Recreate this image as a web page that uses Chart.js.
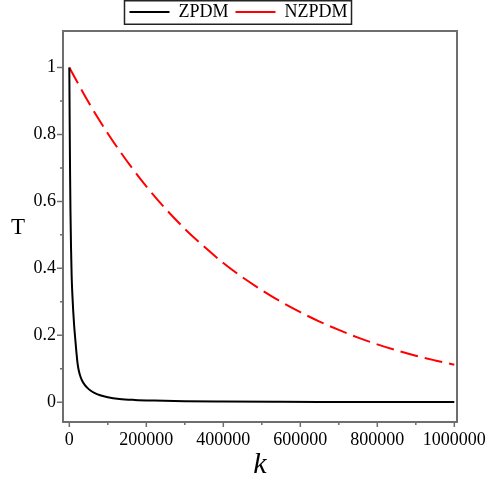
<!DOCTYPE html>
<html><head><meta charset="utf-8">
<script src="https://cdn.jsdelivr.net/npm/chart.js@4/dist/chart.umd.min.js"></script>
<style>html,body{margin:0;padding:0;background:#fff;}</style>
</head><body>
<canvas id="c" width="488" height="485"></canvas>
<script>
// ---- data ----
const seriesNames = ['ZPDM', 'NZPDM'];
const kZPDM = [0, 1000, 2000, 3000, 4500, 6000, 8000, 10000, 12500, 15000, 18000, 21000, 24000, 28000, 33000, 40000, 47000, 55000, 65000, 80000, 100000, 130000, 170000, 220000, 300000, 400000, 550000, 700000, 1000000];
const tZPDM = [1, 0.83, 0.68, 0.57, 0.46, 0.38, 0.32, 0.275, 0.23, 0.195, 0.155, 0.12, 0.098, 0.08, 0.065, 0.052, 0.043, 0.035, 0.028, 0.021, 0.015, 0.01, 0.007, 0.005, 0.003, 0.002, 0.0013, 0.001, 0.0006];
const kNZPDM = [0, 50000, 100000, 150000, 200000, 250000, 300000, 350000, 400000, 450000, 500000, 550000, 600000, 650000, 700000, 750000, 800000, 850000, 900000, 950000, 1000000];
const tNZPDM = [1, 0.896, 0.803, 0.72, 0.645, 0.578, 0.518, 0.465, 0.416, 0.373, 0.335, 0.300, 0.269, 0.241, 0.216, 0.193, 0.173, 0.155, 0.139, 0.125, 0.112];
const xTickValues = [0, 200000, 400000, 600000, 800000, 1000000];
const xMinorValues = [100000, 300000, 500000, 700000, 900000];
const yTickValues = [0, 0.2, 0.4, 0.6, 0.8, 1];
const yMinorValues = [0.1, 0.3, 0.5, 0.7, 0.9];
const xTitle = 'k';
const yTitle = 'T';

const SERIF = '"Liberation Serif", "DejaVu Serif", serif';
const AXIS = '#6e6e6e';

const toPts = (xs, ys) => xs.map((x, i) => ({x: x, y: ys[i]}));

const framePlugin = {
  id: 'frame',
  afterDraw(chart) {
    const {ctx, chartArea: a, scales} = chart;
    const xs = scales.x, ys = scales.y;
    ctx.save();
    // frame
    ctx.strokeStyle = AXIS;
    ctx.lineWidth = 2;
    ctx.strokeRect(a.left, a.top, a.right - a.left, a.bottom - a.top);
    // ticks
    ctx.lineWidth = 1.5;
    ctx.beginPath();
    xTickValues.forEach(v => { const p = xs.getPixelForValue(v); ctx.moveTo(p, a.bottom); ctx.lineTo(p, a.bottom + 5); });
    xMinorValues.forEach(v => { const p = xs.getPixelForValue(v); ctx.moveTo(p, a.bottom); ctx.lineTo(p, a.bottom + 3); });
    yTickValues.forEach(v => { const p = ys.getPixelForValue(v); ctx.moveTo(a.left, p); ctx.lineTo(a.left - 6, p); });
    yMinorValues.forEach(v => { const p = ys.getPixelForValue(v); ctx.moveTo(a.left, p); ctx.lineTo(a.left - 3, p); });
    ctx.stroke();
    // upright y title
    ctx.fillStyle = '#000';
    ctx.font = '23px ' + SERIF;
    ctx.textAlign = 'center';
    ctx.textBaseline = 'middle';
    ctx.fillText(yTitle, 18, (a.top + a.bottom) / 2 + 1);
    // legend border
    const lg = chart.legend;
    if (lg && lg.legendHitBoxes && lg.legendHitBoxes.length) {
      const hb = lg.legendHitBoxes;
      const l = Math.min(...hb.map(h => h.left)) - 5;
      const r = Math.max(...hb.map(h => h.left + h.width)) + 4;
      ctx.strokeStyle = '#222';
      ctx.lineWidth = 1.5;
      ctx.strokeRect(l, 0.75, r - l, 23.5);
    }
    ctx.restore();
  }
};

new Chart(document.getElementById('c'), {
  type: 'scatter',
  data: {
    datasets: [
      {label: seriesNames[0], data: toPts(kZPDM, tZPDM), showLine: true, borderColor: '#000', backgroundColor: '#000', borderWidth: 2, pointRadius: 0, cubicInterpolationMode: 'monotone'},
      {label: seriesNames[1], data: toPts(kNZPDM, tNZPDM), showLine: true, borderColor: '#ff0000', backgroundColor: '#ff0000', borderWidth: 2, borderDash: [18, 7], pointRadius: 0, cubicInterpolationMode: 'monotone'}
    ]
  },
  options: {
    responsive: false,
    animation: false,
    devicePixelRatio: 1,
    layout: {padding: {top: -4, right: 26, left: 15, bottom: 0}},
    plugins: {
      tooltip: {enabled: false},
      legend: {
        position: 'top', align: 'center', maxHeight: 35,
        labels: {usePointStyle: true, pointStyle: 'line', pointStyleWidth: 40, boxHeight: 18, padding: 7, color: '#000', font: {family: SERIF, size: 18}}
      }
    },
    scales: {
      x: {
        type: 'linear', min: -16400, max: 1007000,
        afterBuildTicks: s => { s.ticks = xTickValues.map(v => ({value: v})); },
        afterFit: s => { s.height = 63; s.paddingRight = 31; s.paddingLeft = 0; },
        grid: {display: false, drawTicks: false, tickLength: 0},
        border: {display: false},
        ticks: {callback: v => String(v), color: '#000', font: {family: SERIF, size: 18}, padding: 7, maxRotation: 0, autoSkip: false},
        title: {display: true, text: xTitle, color: '#000', font: {family: SERIF, size: 30, style: 'italic'}, padding: {top: 0, bottom: 2}}
      },
      y: {
        type: 'linear', min: -0.059, max: 1.109,
        afterBuildTicks: s => { s.ticks = yTickValues.map(v => ({value: v})); },
        afterFit: s => { s.width = 48; },
        grid: {display: false, drawTicks: false, tickLength: 0},
        border: {display: false},
        ticks: {callback: v => String(v), color: '#000', font: {family: SERIF, size: 18}, padding: 7, autoSkip: false},
        title: {display: false}
      }
    }
  },
  plugins: [framePlugin]
});
</script>
</body></html>
